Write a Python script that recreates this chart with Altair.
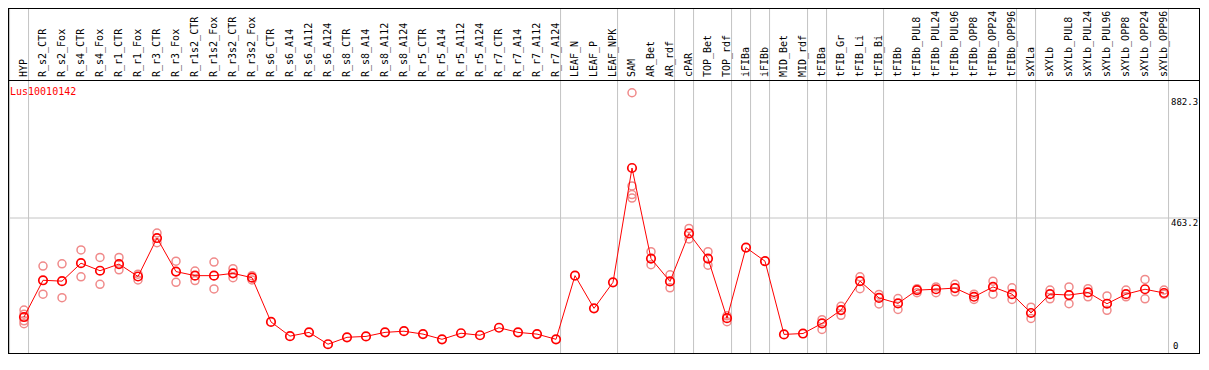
import altair as alt
import pandas as pd

gene = "Lus10010142"

categories = [
    "HYP", "R_s2_CTR", "R_s2_Fox", "R_s4_CTR", "R_s4_Fox", "R_r1_CTR", "R_r1_Fox",
    "R_r3_CTR", "R_r3_Fox", "R_r1s2_CTR", "R_r1s2_Fox", "R_r3s2_CTR", "R_r3s2_Fox",
    "R_s6_CTR", "R_s6_A14", "R_s6_A112", "R_s6_A124", "R_s8_CTR", "R_s8_A14",
    "R_s8_A112", "R_s8_A124", "R_r5_CTR", "R_r5_A14", "R_r5_A112", "R_r5_A124",
    "R_r7_CTR", "R_r7_A14", "R_r7_A112", "R_r7_A124", "LEAF_N", "LEAF_P", "LEAF_NPK",
    "SAM", "AR_Bet", "AR_rdf", "cPAR", "TOP_Bet", "TOP_rdf", "iFIBa", "iFIBb",
    "MID_Bet", "MID_rdf", "tFIBa", "tFIB_Gr", "tFIB_Li", "tFIB_Bi", "tFIBb",
    "tFIBb_PUL8", "tFIBb_PUL24", "tFIBb_PUL96", "tFIBb_OPP8", "tFIBb_OPP24",
    "tFIBb_OPP96", "sXYLa", "sXYLb", "sXYLb_PUL8", "sXYLb_PUL24", "sXYLb_PUL96",
    "sXYLb_OPP8", "sXYLb_OPP24", "sXYLb_OPP96",
]

means = [
    121, 248, 245, 307, 281, 304, 261, 394, 278, 264, 264, 272, 257,
    104, 55, 68, 27, 51, 54, 68, 72, 62, 44, 65, 58, 84, 68, 62, 44,
    264, 151, 241, 636, 323, 244, 410, 323, 117, 361, 314, 61, 64,
    99, 145, 245, 187, 168, 214, 217, 221, 191, 225, 200,
    135, 200, 197, 206, 167, 200, 217, 204,
]

replicates = [
    [145, 131, 108, 98], [297, 200], [305, 188], [353, 260], [327, 234],
    [327, 284], [269, 249], [411, 378], [314, 241], [280, 247], [311, 218],
    [288, 257], [264, 249],
    [], [], [], [], [], [], [], [], [], [], [], [], [], [], [], [],
    [], [], [],
    [896, 574, 544, 532], [347, 302], [267, 222], [427, 391], [347, 300],
    [125, 105], [], [], [], [],
    [112, 78], [158, 127], [260, 219], [199, 166], [185, 147], [219, 205],
    [225, 205], [234, 208], [200, 182], [245, 200], [222, 182],
    [155, 116], [214, 184], [225, 167], [219, 191], [194, 144], [214, 191],
    [251, 184], [214, 200],
]

group_ends = [-1, 0, 28, 31, 34, 35, 37, 38, 39, 41, 42, 45, 52, 53, 60]
tick_values = [882.3, 463.2, 0]

# layout (pixels)
W, H, TOP = 1192, 273, 72
X0, STEP = 16, 19
MONO = "DejaVu Sans Mono"

pts = pd.DataFrame({"idx": list(range(len(categories))), "cat": categories, "mean": means})
reps = pd.DataFrame(
    [{"idx": i, "value": v} for i, vals in enumerate(replicates) for v in vals]
)
seps = pd.DataFrame({"pos": [g + 0.24 for g in group_ends]})
ticks = pd.DataFrame({"v": tick_values, "label": [f"{v:g}" for v in tick_values]})
one = pd.DataFrame({"a": [0]})

xs = alt.Scale(domain=[-X0 / STEP, (W - X0) / STEP], nice=False, zero=False)
ys = alt.Scale(domain=[-3.3, 940.1], nice=False, zero=False)

vlines = alt.Chart(seps).mark_rule(color="#c4c4c4", strokeWidth=1).encode(
    x=alt.X("pos:Q", scale=xs, axis=None),
    y=alt.value(-TOP),
    y2=alt.value(H),
)

hgrid = alt.Chart(ticks[ticks["v"] == tick_values[1]]).mark_rule(
    color="#c4c4c4", strokeWidth=1
).encode(
    y=alt.Y("v:Q", scale=ys, axis=None),
    x=alt.value(0),
    x2=alt.value(W),
)

rep_pts = alt.Chart(reps).mark_point(
    shape="circle", filled=False, color="#f08a8a", size=64, strokeWidth=1.5, opacity=1
).encode(
    x=alt.X("idx:Q", scale=xs, axis=None),
    y=alt.Y("value:Q", scale=ys, axis=None),
)

line = alt.Chart(pts).mark_line(color="#ff0000", strokeWidth=1).encode(
    x=alt.X("idx:Q", scale=xs, axis=None),
    y=alt.Y("mean:Q", scale=ys, axis=None),
)

mean_pts = alt.Chart(pts).mark_point(
    shape="circle", filled=False, color="#ff0000", size=72, strokeWidth=1.7, opacity=1
).encode(
    x=alt.X("idx:Q", scale=xs, axis=None),
    y=alt.Y("mean:Q", scale=ys, axis=None),
)

header = alt.Chart(pts).mark_text(
    angle=270, align="left", baseline="middle", font=MONO, fontSize=10, color="black"
).encode(
    x=alt.X("idx:Q", scale=xs, axis=None),
    y=alt.value(-3),
    text="cat:N",
)

title = alt.Chart(one).mark_text(
    align="left", baseline="middle", font=MONO, fontSize=10, color="#ff0000"
).encode(
    x=alt.value(2),
    y=alt.value(12),
    text=alt.value(gene),
)

tick_top = alt.Chart(ticks[ticks["v"] > 0]).mark_text(
    align="left", baseline="top", dy=1, font=MONO, fontSize=9, color="black"
).encode(
    x=alt.value(1163),
    y=alt.Y("v:Q", scale=ys, axis=None),
    text="label:N",
)

tick_zero = alt.Chart(ticks[ticks["v"] == 0]).mark_text(
    align="left", baseline="bottom", dy=-1, font=MONO, fontSize=9, color="black"
).encode(
    x=alt.value(1165),
    y=alt.Y("v:Q", scale=ys, axis=None),
    text="label:N",
)

frame_style = dict(color="black", strokeWidth=1)
f_top = alt.Chart(one).mark_rule(**frame_style).encode(
    y=alt.value(-TOP + 0.5), x=alt.value(0), x2=alt.value(W))
f_head = alt.Chart(one).mark_rule(**frame_style).encode(
    y=alt.value(0.5), x=alt.value(0), x2=alt.value(W))
f_bottom = alt.Chart(one).mark_rule(**frame_style).encode(
    y=alt.value(H + 0.5), x=alt.value(0), x2=alt.value(W))
f_left = alt.Chart(one).mark_rule(**frame_style).encode(
    x=alt.value(0.5), y=alt.value(-TOP), y2=alt.value(H + 1))
f_right = alt.Chart(one).mark_rule(**frame_style).encode(
    x=alt.value(W - 0.5), y=alt.value(-TOP), y2=alt.value(H + 1))

chart = alt.layer(
    vlines, hgrid, rep_pts, line, mean_pts, header, title, tick_top, tick_zero,
    f_top, f_head, f_bottom, f_left, f_right,
).properties(
    width=W,
    height=H,
    padding={"left": 0, "top": TOP, "right": 0, "bottom": 1},
    autosize=alt.AutoSizeParams(type="none"),
    background="white",
).configure_view(stroke=None)

chart.save("out.html", embed_options={"renderer": "svg", "actions": False})
